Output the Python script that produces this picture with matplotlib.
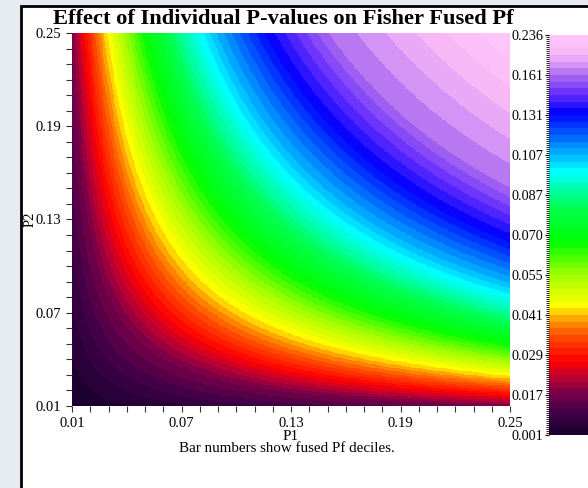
import numpy as np
import matplotlib
matplotlib.use("Agg")
import matplotlib.pyplot as plt
from matplotlib.colors import LinearSegmentedColormap
from matplotlib.patches import Rectangle

plt.rcParams['font.family'] = ['Liberation Serif', 'DejaVu Serif']

# axis ticks (individual p-values)
p_ticks = [0.01, 0.07, 0.13, 0.19, 0.25]
p_labels = ["0.01", "0.07", "0.13", "0.19", "0.25"]
# fused Pf decile boundaries
pf_deciles = [0.001, 0.017, 0.029, 0.041, 0.055, 0.070, 0.087, 0.107, 0.131, 0.161, 0.236]
pf_labels = ["0.001", "0.017", "0.029", "0.041", "0.055", "0.070", "0.087", "0.107", "0.131", "0.161", "0.236"]

# Fisher fused Pf over the grid of the two individual p-values
p = np.linspace(0.01, 0.25, 481)
P1, P2 = np.meshgrid(p, p)
prod = P1 * P2
pf = prod * (1 - np.log(prod))
dec_pos = np.linspace(0, 1, len(pf_deciles))
pos = np.interp(pf, pf_deciles, dec_pos)

anchors = [(0.00, "#1c0030"), (0.05, "#420048"), (0.10, "#7a0048"), (0.14, "#c00030"),
           (0.18, "#ff0000"), (0.24, "#ff4a00"), (0.28, "#ff9000"), (0.32, "#ffff00"),
           (0.40, "#a0ff00"), (0.48, "#00ff00"), (0.57, "#00ff50"), (0.66, "#00ffff"),
           (0.73, "#0088ff"), (0.81, "#0000ff"), (0.86, "#6a30ff"), (0.90, "#a060f0"),
           (0.94, "#e0a0f6"), (0.97, "#fcbcf6"), (1.00, "#ffc4fa")]
cmap = LinearSegmentedColormap.from_list("pf", anchors).resampled(60)

fig = plt.figure(figsize=(5.88, 4.88), dpi=100, facecolor="#e6ebf2")
fig.patches.append(Rectangle((21 / 588, -0.1), 1.2, 1.1 - 6 / 488, transform=fig.transFigure,
                             facecolor="white", edgecolor="black", linewidth=2, zorder=-5))

ax = fig.add_axes([72 / 588, 1 - 406 / 488, 438 / 588, 373 / 488])
im = ax.pcolormesh(P1, P2, pos, cmap=cmap, vmin=0, vmax=1, shading="auto")
ax.set_xlim(0.01, 0.25)
ax.set_ylim(0.01, 0.25)
for s in ax.spines.values():
    s.set_visible(False)
ax.set_xticks(p_ticks)
ax.set_xticklabels(p_labels)
ax.set_yticks(p_ticks)
ax.set_yticklabels(p_labels)
ax.set_xticks(np.arange(0.01, 0.2501, 0.01), minor=True)
ax.set_yticks(np.arange(0.01, 0.2501, 0.01), minor=True)
ax.tick_params(which="both", length=4, width=0.8, color="#333333", labelsize=10.5, pad=4)
ax.set_xlabel("P1", fontsize=11, labelpad=0)
ax.set_ylabel("P2", fontsize=10.5, labelpad=-1)
fig.text(0.488, 1 - 449 / 488, "Bar numbers show fused Pf deciles.", ha="center", va="center", fontsize=10.8)
fig.text(0.482, 1 - 19 / 488, "Effect of Individual P-values on Fisher Fused Pf", ha="center", va="center",
         fontsize=16.2, fontweight="bold")

cax = fig.add_axes([549 / 588, 1 - 435 / 488, 0.09, 400 / 488])
cb = fig.colorbar(im, cax=cax)
cb.outline.set_visible(False)
cax.yaxis.set_ticks_position("left")
cax.set_yticks(dec_pos)
cax.set_yticklabels(pf_labels)
cax.set_yticks(np.linspace(0, 1, 201), minor=True)
cax.tick_params(which="major", length=3, labelsize=10.3, pad=1)
cax.tick_params(which="minor", length=2, width=0.6)

fig.savefig("out.png", dpi=100, facecolor=fig.get_facecolor())
